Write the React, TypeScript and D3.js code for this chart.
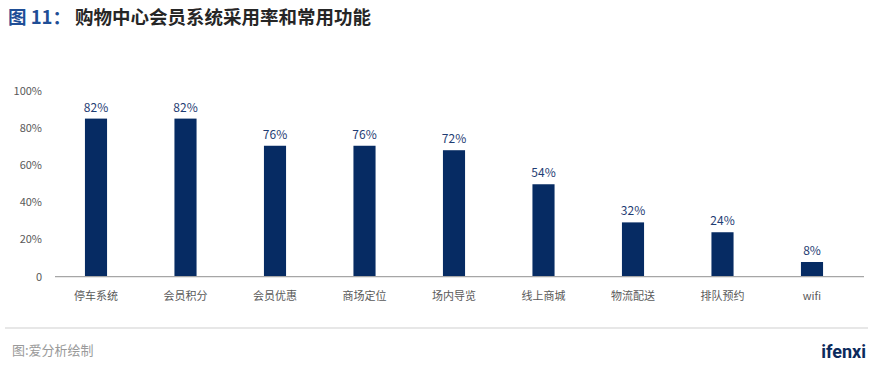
import React from 'react';
import * as d3 from 'd3';

const categories = ['停车系统', '会员积分', '会员优惠', '商场定位', '场内导览', '线上商城', '物流配送', '排队预约', 'wifi'];
// bar heights as drawn in the picture (percent)
const barValues = [85, 85, 70.4, 70.4, 68, 49.7, 29.2, 23.9, 7.9];
// labels printed above the bars
const valueLabels = ['82%', '82%', '76%', '76%', '72%', '54%', '32%', '24%', '8%'];
const yTicks = [0, 20, 40, 60, 80, 100];

const W = 873;
const H = 374;
const FONT = '"Noto Sans CJK SC", "Noto Sans", sans-serif';

const App = () => {
  const x = d3.scaleBand<string>().domain(categories).range([51.25, 856.75]).paddingInner(0.753).paddingOuter(0.3765);
  const y = d3.scaleLinear().domain([0, 100]).range([276.7, 90.7]);

  return (
    <svg width={W} height={H} style={{ position: 'absolute', left: 0, top: 0, background: '#fff' }} fontFamily={FONT}>
      <text x={8} y={24} fontSize={18.5} fontWeight="bold">
        <tspan fill="#1f4e96">图 11：</tspan>
        <tspan x={75} fill="#262626">购物中心会员系统采用率和常用功能</tspan>
      </text>

      {yTicks.map(t => (
        <text key={t} x={42} y={y(t)} dy="0.35em" textAnchor="end" fontSize={11} fill="#595959">
          {t === 0 ? '0' : `${t}%`}
        </text>
      ))}

      {categories.map((c, i) => (
        <g key={c}>
          <rect x={x(c)} y={y(barValues[i])} width={x.bandwidth()} height={y(0) - y(barValues[i])} fill="#062b63" />
          <text x={(x(c) as number) + x.bandwidth() / 2} y={y(barValues[i]) - 7} textAnchor="middle" fontSize={12} fill="#1f3d73">
            {valueLabels[i]}
          </text>
          <text x={(x(c) as number) + x.bandwidth() / 2} y={300} textAnchor="middle" fontSize={11} fill="#595959">
            {c}
          </text>
        </g>
      ))}

      <line x1={55} x2={864} y1={y(0)} y2={y(0)} stroke="#a6a6a6" strokeWidth={1.2} />

      <line x1={5} x2={868} y1={328} y2={328} stroke="#cfcfcf" strokeWidth={1} />
      <text x={12} y={355} fontSize={13} fill="#9a9a9a">图:爱分析绘制</text>
      <text x={866} y={358} textAnchor="end" fontSize={18} fontWeight="bold" fill="#0b2a5c" fontFamily="Roboto, sans-serif">
        ifenxi
      </text>
    </svg>
  );
};

export default App;
